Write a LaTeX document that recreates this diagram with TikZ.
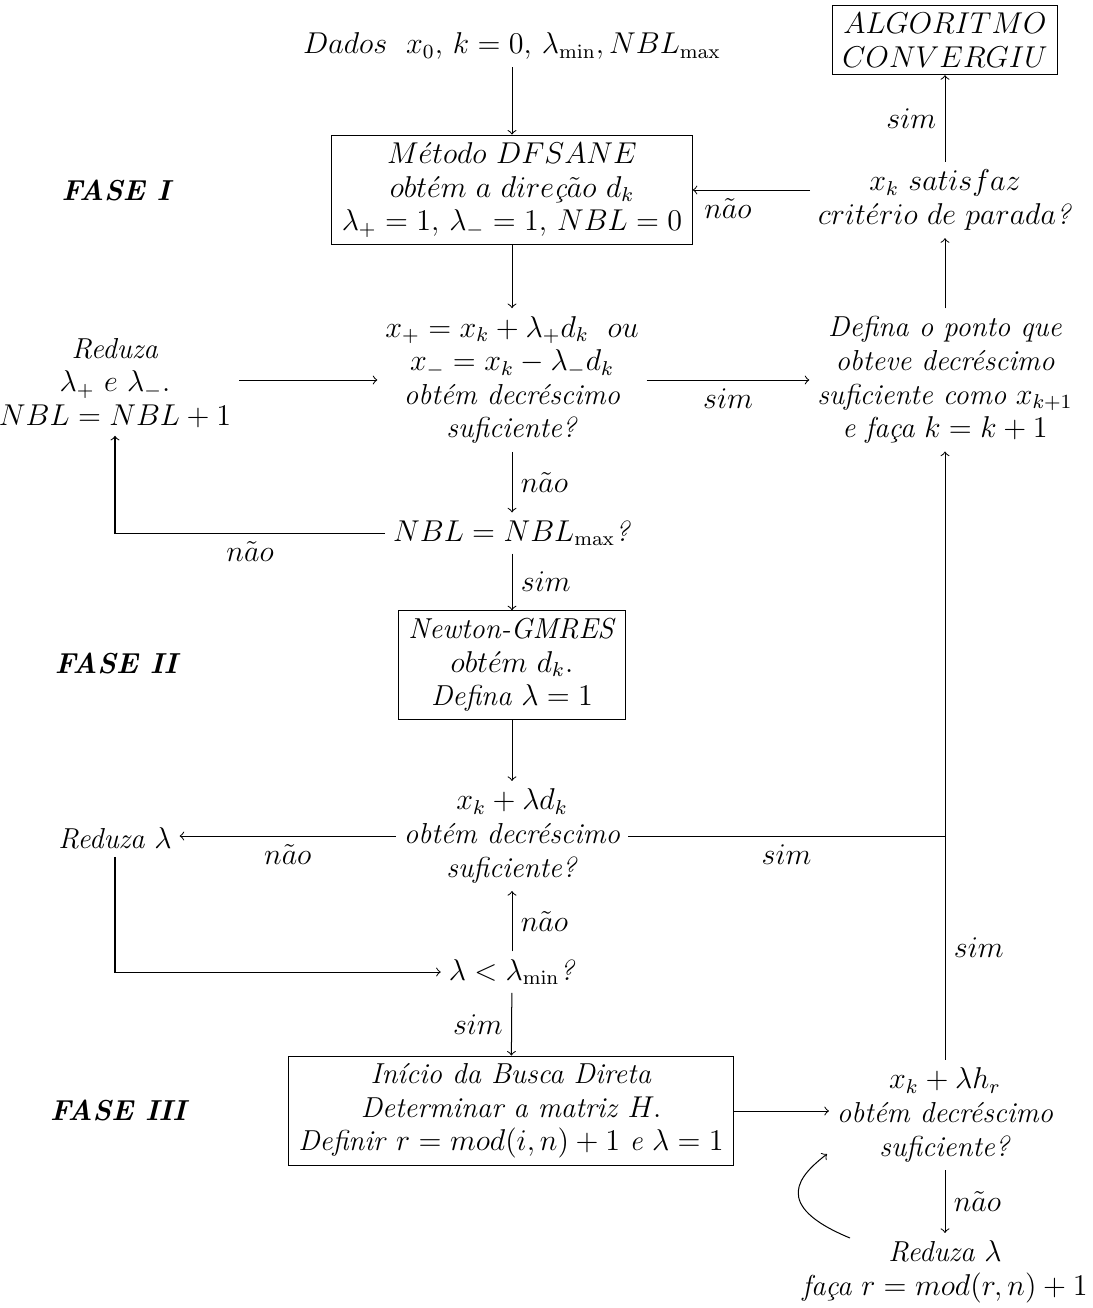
\documentclass[tikz,border=0pt]{standalone}
\usepackage{amsmath}
\tikzset{
	every node/.style={font=\fontsize{11.5}{13.4}\selectfont},
	caixa/.style={draw, align=center, inner xsep=4pt, inner ysep=3pt},
	texto/.style={align=center, inner sep=3pt},
	fase/.style={font=\fontsize{11.5}{13.4}\selectfont\bfseries\itshape},
}
\begin{document}
\begin{tikzpicture}[x=0.014cm,y=-0.014cm]
	\useasboundingbox (0,0) rectangle (1093,1308);
	% fase I
	\node[fase] (faseI) at (116,190) {FASE I};
	\node[texto] (dados) at (512,46) {$Dados\ \ x_0,\, k=0,\, \lambda_{\min}, NBL_{\max}$};
	\node[caixa] (dfsane) at (512,190) {$M\acute{e}todo\ DFSANE$\\ $obt\acute{e}m\ a\ dire\text{\itshape ç}\tilde{a}o\ d_k$\\ $\lambda_+ = 1,\, \lambda_- = 1,\, NBL = 0$};
	\node[caixa] (convergiu) at (945,40) {$ALGORITMO$\\ $CONVERGIU$};
	\node[texto] (criterio) at (945,200) {$x_k\ satisfaz$\\ $crit\acute{e}rio\ de\ parada$\textit{?}};
	\node[texto] (xmais) at (512,380) {$x_+ = x_k + \lambda_+ d_k\ \ ou$\\ $x_- = x_k - \lambda_- d_k$\\ \textit{obtém decréscimo}\\ \textit{suficiente?}};
	\node[texto] (reduzaA) at (115,383) {\textit{Reduza}\\ $\lambda_+\ e\ \lambda_-.$\\ $NBL = NBL + 1$};
	\node[texto] (defina) at (945,380) {\textit{Defina o ponto que}\\ \textit{obteve decréscimo}\\ \textit{suficiente como} $x_{k+1}$\\ \textit{e faça} $k = k + 1$};
	\node[texto] (nblmax) at (512,533) {$NBL = NBL_{\max}$\textit{?}};
	% fase II
	\node[fase] (faseII) at (116,663) {FASE II};
	\node[caixa] (newton) at (512,665) {\textit{Newton-GMRES}\\ $obt\acute{e}m\ d_k.$\\ \textit{Defina} $\lambda = 1$};
	\node[texto] (xlambda) at (512,836) {$x_k + \lambda d_k$\\ \textit{obtém decréscimo}\\ \textit{suficiente?}};
	\node[texto] (reduzaB) at (115,838) {\textit{Reduza} $\lambda$};
	\node[texto] (lambdamin) at (512,972) {$\lambda < \lambda_{\min}$\textit{?}};
	% fase III
	\node[fase] (faseIII) at (118,1110) {FASE III};
	\node[caixa] (busca) at (511,1111) {\textit{Início da Busca Direta}\\ \textit{Determinar a matriz} $H.$\\ \textit{Definir} $r = mod(i,n) + 1$ \textit{e} $\lambda = 1$};
	\node[texto] (xhr) at (945,1115) {$x_k + \lambda h_r$\\ \textit{obtém decréscimo}\\ \textit{suficiente?}};
	\node[texto] (reduzaC) at (945,1272) {\textit{Reduza} $\lambda$\\ \textit{faça} $r = mod(r,n) + 1$};
	\coordinate (curvaA) at (850,1238);
	\coordinate (curvaB) at (827,1154);

	\draw[->] (dados) -- (dfsane);
	\draw[->] (criterio) -- node[left] {$sim$} (convergiu);
	\draw[->] (criterio.west |- dfsane.east) -- node[pos=0.7,below] {$n\tilde{a}o$} (dfsane.east);
	\draw[->] (dfsane) -- (xmais);
	\draw[->] (reduzaA.east |- xmais.west) -- (xmais.west);
	\draw[->] (xmais.east) -- node[below] {$sim$} (defina.west);
	\draw[->] (defina) -- (criterio);
	\draw[->] (xmais) -- node[right] {$n\tilde{a}o$} (nblmax);
	\draw[->] (nblmax.west) -| node[pos=0.25,below] {$n\tilde{a}o$} (reduzaA.south);
	\draw[->] (nblmax) -- node[right] {$sim$} (newton);
	\draw[->] (newton) -- (xlambda);
	\draw[->] (xlambda.west) -- node[below] {$n\tilde{a}o$} (xlambda.west -| reduzaB.east);
	\draw[->] (xlambda.east) -| node[pos=0.25,below] {$sim$} (defina.south);
	\draw[->] (reduzaB.south) |- (lambdamin.west);
	\draw[->] (lambdamin) -- node[right] {$n\tilde{a}o$} (xlambda);
	\draw[->] (lambdamin) -- node[left] {$sim$} (busca);
	\draw[->] (busca.east) -- (busca.east -| xhr.west);
	\draw (xhr.north) -- node[right] {$sim$} (xhr.north |- xlambda.east);
	\draw[->] (xhr) -- node[right] {$n\tilde{a}o$} (reduzaC);
	\draw[->] (curvaA) .. controls (770,1205) and (800,1175) .. (curvaB);
\end{tikzpicture}
\end{document}
